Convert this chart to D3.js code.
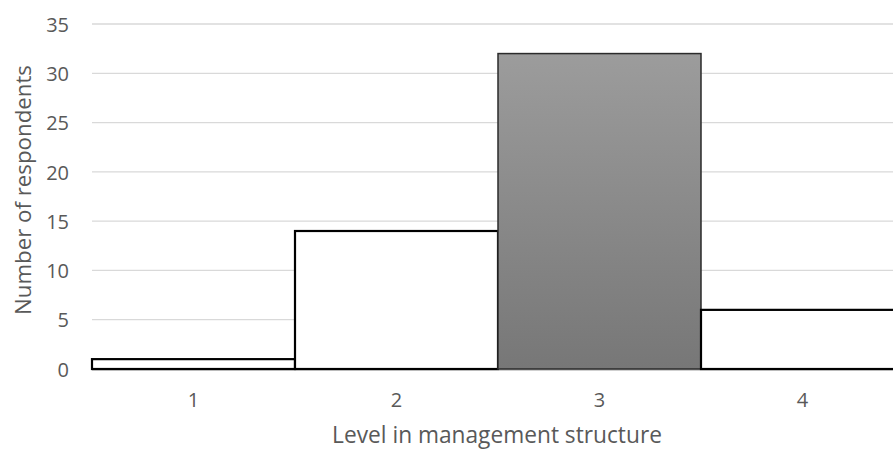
<!DOCTYPE html>
<html><head><meta charset="utf-8">
<script src="https://cdn.jsdelivr.net/npm/d3@7"></script>
<style>body{margin:0;background:#fff}svg{display:block}text{font-family:"Open Sans",sans-serif;fill:#595959}</style>
</head><body>
<script>
const categories = ["1","2","3","4"];
const values = [1,14,32,6];
const highlighted = [false,false,true,false];
const yTicks = [0,5,10,15,20,25,30,35];

const W=893,H=450;
const svg=d3.select("body").append("svg").attr("width",W).attr("height",H);
const defs=svg.append("defs");
const grad=defs.append("linearGradient").attr("id","g").attr("x1",0).attr("y1",0).attr("x2",0).attr("y2",1);
grad.append("stop").attr("offset","0%").attr("stop-color","#9c9c9c");
grad.append("stop").attr("offset","100%").attr("stop-color","#777777");

const x=d3.scaleBand().domain(categories).range([92,904]).padding(0);
const y=d3.scaleLinear().domain([0,35]).range([369,24]);

// gridlines
svg.append("g").selectAll("line").data(yTicks.filter(d=>d>0)).join("line")
 .attr("x1",92).attr("x2",W).attr("y1",d=>y(d)).attr("y2",d=>y(d))
 .attr("stroke","#d9d9d9").attr("stroke-width",1.3);

// y tick labels
const ya=svg.append("g").attr("transform","translate(69,0)").call(d3.axisLeft(y).tickValues(yTicks).tickSize(0).tickPadding(0));
ya.select(".domain").remove();
ya.selectAll("text").style("font-size","20px").style("font-family","'Open Sans',sans-serif").attr("fill","#595959").attr("text-anchor","end").attr("dy","0.36em");

// baseline
svg.append("line").attr("x1",92).attr("x2",W).attr("y1",y(0)+1).attr("y2",y(0)+1).attr("stroke","#bfbfbf").attr("stroke-width",1.5);

// bars
svg.append("g").selectAll("rect").data(values).join("rect")
 .attr("x",(d,i)=>x(categories[i]))
 .attr("y",d=>y(d))
 .attr("width",x.bandwidth())
 .attr("height",d=>y(0)-y(d))
 .attr("fill",(d,i)=>highlighted[i]?"url(#g)":"#ffffff")
 .attr("stroke",(d,i)=>highlighted[i]?"#2b2b2b":"#000")
 .attr("stroke-width",(d,i)=>highlighted[i]?1.5:2.2);

// x tick labels
const xa=svg.append("g").attr("transform",`translate(0,${y(0)})`).call(d3.axisBottom(x).tickSize(0).tickPadding(0));
xa.select(".domain").remove();
xa.selectAll("text").style("font-size","20px").style("font-family","'Open Sans',sans-serif").attr("fill","#595959").attr("dy",null).attr("y",38);

// axis titles
function fit(t,target,base){t.style("font-size",base+"px");const w=t.node().getComputedTextLength();t.style("font-size",(base*target/w).toFixed(2)+"px");}
const xt=svg.append("text").attr("x",497).attr("y",443).attr("text-anchor","middle").text("Level in management structure");
fit(xt,330,20);
const yt=svg.append("text").attr("transform","translate(31,190) rotate(-90)").attr("text-anchor","middle").text("Number of respondents");
fit(yt,250,20);
</script>
</body></html>
